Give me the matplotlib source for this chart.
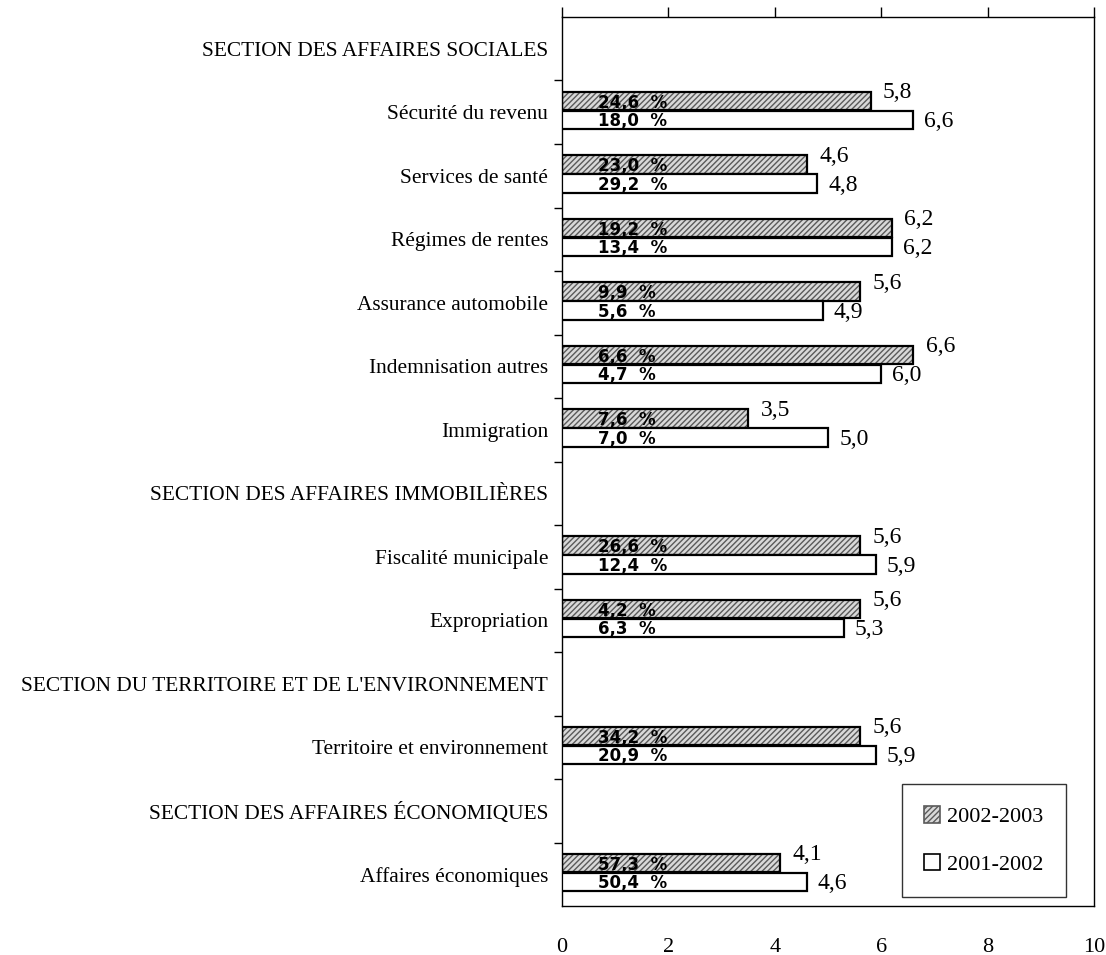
import numpy as np
import matplotlib
matplotlib.use("Agg")
import matplotlib.pyplot as plt
from matplotlib.patches import Patch

categories = [
    "SECTION DES AFFAIRES SOCIALES",
    "Sécurité du revenu",
    "Services de santé",
    "Régimes de rentes",
    "Assurance automobile",
    "Indemnisation autres",
    "Immigration",
    "SECTION DES AFFAIRES IMMOBILIÈRES",
    "Fiscalité municipale",
    "Expropriation",
    "SECTION DU TERRITOIRE ET DE L'ENVIRONNEMENT",
    "Territoire et environnement",
    "SECTION DES AFFAIRES ÉCONOMIQUES",
    "Affaires économiques",
]
nan = np.nan
val_2002_2003 = [nan, 5.8, 4.6, 6.2, 5.6, 6.6, 3.5, nan, 5.6, 5.6, nan, 5.6, nan, 4.1]
val_2001_2002 = [nan, 6.6, 4.8, 6.2, 4.9, 6.0, 5.0, nan, 5.9, 5.3, nan, 5.9, nan, 4.6]
pct_2002_2003 = ["", "24,6", "23,0", "19,2", "9,9", "6,6", "7,6", "", "26,6", "4,2", "", "34,2", "", "57,3"]
pct_2001_2002 = ["", "18,0", "29,2", "13,4", "5,6", "4,7", "7,0", "", "12,4", "6,3", "", "20,9", "", "50,4"]
series_names = ["2002-2003", "2001-2002"]
xticks = [0, 2, 4, 6, 8, 10]

serif = ["Liberation Serif", "DejaVu Serif"]
fig = plt.figure(figsize=(11.06, 9.55), dpi=100)
ax = fig.add_axes([0.5081, 0.0513, 0.4810, 0.9309])

y = np.arange(len(categories))
h = 0.29
off_a = -0.175
off_b = 0.12
va_ = np.array(val_2002_2003, dtype=float)
vb_ = np.array(val_2001_2002, dtype=float)
ma = ~np.isnan(va_)
mb = ~np.isnan(vb_)

# hatched bars (2002-2003)
ax.barh(y[ma] + off_a, va_[ma], height=h, color="#d9d9d9", edgecolor="#5a5a5a",
        hatch="//////", linewidth=0, zorder=2)
ax.barh(y[ma] + off_a, va_[ma], height=h, fill=False, edgecolor="black",
        linewidth=1.6, zorder=3)
# white bars (2001-2002)
ax.barh(y[mb] + off_b, vb_[mb], height=h, color="white", edgecolor="black",
        linewidth=1.6, zorder=3)

for i in range(len(categories)):
    if ma[i]:
        ax.annotate(f"{va_[i]:.1f}".replace(".", ","), (va_[i], y[i] + off_a),
                    xytext=(9, 6), textcoords="offset points", ha="left", va="center",
                    fontsize=17, family=serif)
        ax.annotate(pct_2002_2003[i] + "  %", (0, y[i] + off_a), xytext=(26, -1),
                    textcoords="offset points", ha="left", va="center",
                    fontsize=12, fontweight="bold", family="DejaVu Sans", zorder=5)
    if mb[i]:
        ax.annotate(f"{vb_[i]:.1f}".replace(".", ","), (vb_[i], y[i] + off_b),
                    xytext=(8, -1.5), textcoords="offset points", ha="left", va="center",
                    fontsize=17, family=serif)
        ax.annotate(pct_2001_2002[i] + "  %", (0, y[i] + off_b), xytext=(26, -1),
                    textcoords="offset points", ha="left", va="center",
                    fontsize=12, fontweight="bold", family="DejaVu Sans", zorder=5)

ax.set_xlim(0, 10)
ax.set_ylim(len(categories) - 0.5, -0.5)

ax.set_xticks(xticks)
ax.set_xticklabels([str(t) for t in xticks], fontsize=16, family=serif)
ax.tick_params(axis="x", which="major", top=True, bottom=False, labeltop=False,
               labelbottom=True, direction="out", length=0, width=1, pad=23)
for t in ax.xaxis.get_major_ticks():
    t.tick2line.set_markersize(7)

ax.set_yticks(y)
ax.set_yticklabels(categories, fontsize=15.4, family=serif)
ax.tick_params(axis="y", which="major", length=0, pad=10)
ax.set_yticks(np.arange(0.5, len(categories) - 0.5, 1.0), minor=True)
ax.tick_params(axis="y", which="minor", left=True, direction="out", length=6, width=1)

for s in ax.spines.values():
    s.set_linewidth(1.0)
    s.set_color("black")

handles = [Patch(facecolor="#d9d9d9", edgecolor="#5a5a5a", hatch="//////", linewidth=1.2),
           Patch(facecolor="white", edgecolor="black", linewidth=1.2)]
leg = ax.legend(handles, series_names, loc="lower right", bbox_to_anchor=(0.947, 0.010),
                borderaxespad=0, frameon=True, fancybox=False, shadow=False,
                prop={"family": serif, "size": 16}, handlelength=0.75, handleheight=0.75,
                handletextpad=0.3, labelspacing=1.2, borderpad=1.0)
leg.get_frame().set_edgecolor("black")
leg.get_frame().set_linewidth(1.0)

fig.savefig("out.png", dpi=100)
